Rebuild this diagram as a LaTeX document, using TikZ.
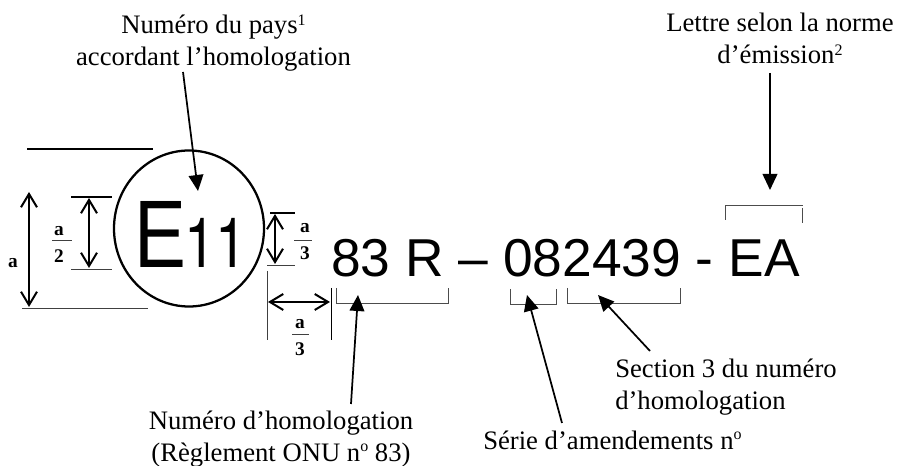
\documentclass[tikz,border=0pt]{standalone}
\usepackage{fontspec}
\usepackage{graphicx}
\setmainfont{Liberation Serif}
\setsansfont{Liberation Sans}
\newfontfamily\heros{TeX Gyre Heros}
\newcommand{\supmark}[2][5.6pt]{\raisebox{#1}{\fontsize{12}{12}\selectfont #2}}
\usetikzlibrary{arrows.meta,shapes.geometric}
\tikzset{
  x=0.75pt,y=-0.75pt,
  lab/.style={font=\fontsize{20}{24}\selectfont,align=center,inner sep=0pt},
  big/.style={font=\sffamily\fontsize{40}{40}\selectfont,inner sep=0pt,anchor=base west},
  frac/.style={font=\bfseries\fontsize{14.5}{16}\selectfont,inner sep=0pt},
  call/.style={line width=1.3pt,-{Triangle[length=12pt,width=11pt]}},
  dim/.style={line width=1pt,{Straight Barb[length=10pt,width=12pt,line width=1.5pt]}-{Straight Barb[length=10pt,width=12pt,line width=1.5pt]}},
  thin1/.style={line width=0.7pt,black!75},
  brk/.style={line width=0.7pt,black!70}
}
\begin{document}
\begin{tikzpicture}
\useasboundingbox (0,0) rectangle (897,466);
% labels
\node[lab] (pays) at (213.5,43) {Numéro du pays\supmark{1}\\accordant l’homologation};
\node[lab] (lettre) at (780,38) {Lettre selon la norme\\d’émission\supmark{2}};
\node[lab] (numero) at (281,439) {Numéro d’homologation\\(Règlement ONU n\supmark[7.5pt]{o} 83)};
\node[lab,anchor=base west] (serie) at (483,450) {Série d’amendements n\supmark[7.5pt]{o}};
\node[lab,align=left,anchor=west] (section) at (615,387) {Section 3 du numéro\\d’homologation};
% mark
\node[draw,line width=1.7pt,ellipse,minimum width=112.5pt,minimum height=117pt,inner sep=0pt] (rond) at (189,228.5) {};
\node[font=\sffamily\fontsize{72}{72}\selectfont,inner sep=0pt,anchor=base west] (lE) at (134,268) {\scalebox{.81}[1]{E}};
\node[font=\heros\fontsize{52}{52}\selectfont,inner sep=0pt,anchor=base west] (l11) at (184,268) {\scalebox{.82}[1]{11}};
\node[big] (num) at (331,277) {83 R – 082439 - EA};
% dimension lines
\coordinate (t1) at (27,149); \coordinate (t2) at (153,149);
\coordinate (b1) at (22,308); \coordinate (b2) at (148,308);
\draw[line width=0.8pt] (t1)--(t2);
\draw[thin1] (b1)--(b2);
\coordinate (a1) at (29,192); \coordinate (a2) at (29,307);
\draw[dim] (a1)--(a2);
\node[frac] (fa) at (13,263) {a};
\coordinate (h1) at (71,197); \coordinate (h2) at (112,197);
\coordinate (h3) at (71,269); \coordinate (h4) at (112,269);
\draw[line width=0.8pt] (h1)--(h2); \draw[thin1] (h3)--(h4);
\coordinate (h5) at (89,198); \coordinate (h6) at (89,268);
\draw[dim] (h5)--(h6);
\node[frac] (fb) at (59,231) {a};
\node[frac] (fb2n) at (59,256) {2};
\coordinate (fb1) at (52,240); \coordinate (fb2) at (72,240);
\draw[thin1] (fb1)--(fb2);
\coordinate (r1) at (270,213); \coordinate (r2) at (295,213);
\coordinate (r3) at (267,265); \coordinate (r4) at (295,265);
\draw[line width=0.8pt] (r1)--(r2); \draw[thin1] (r3)--(r4);
\coordinate (r5) at (275,214); \coordinate (r6) at (275,264);
\draw[dim] (r5)--(r6);
\node[frac] (fc) at (305,228) {a};
\node[frac] (fc2n) at (305,253) {3};
\coordinate (fc1) at (294,240); \coordinate (fc2) at (312,240);
\draw[thin1] (fc1)--(fc2);
\coordinate (v1) at (267,271); \coordinate (v2) at (267,340);
\coordinate (v3) at (331,288); \coordinate (v4) at (331,340);
\draw[thin1] (v1)--(v2); \draw[line width=0.7pt] (v3)--(v4);
\coordinate (w1) at (268,302); \coordinate (w2) at (330,302);
\draw[dim,line width=1.3pt] (w1)--(w2);
\node[frac] (fd) at (300,324) {a};
\node[frac] (fd2n) at (300,349) {3};
\coordinate (fd1) at (292,334); \coordinate (fd2) at (309,334);
\draw[thin1] (fd1)--(fd2);
% brackets
\coordinate (p1) at (336,288); \coordinate (p2) at (336,303); \coordinate (p3) at (448,303); \coordinate (p4) at (448,288);
\draw[brk] (p1)--(p2)--(p3)--(p4);
\coordinate (q1) at (510,289); \coordinate (q2) at (510,304); \coordinate (q3) at (556,304); \coordinate (q4) at (556,289);
\draw[brk] (q1)--(q2)--(q3)--(q4);
\coordinate (s1) at (567,288); \coordinate (s2) at (567,303); \coordinate (s3) at (680,303); \coordinate (s4) at (680,288);
\draw[brk] (s1)--(s2)--(s3)--(s4);
\coordinate (u1) at (725,220); \coordinate (u2) at (725,205.5); \coordinate (u3) at (803,205.5);
\coordinate (u4) at (802,208); \coordinate (u5) at (802,223);
\draw[brk] (u1)--(u2)--(u3); \draw[brk] (u4)--(u5);
% callouts
\coordinate (c1) at (183,72); \coordinate (c1t) at (198,191);
\draw[call] (c1)--(c1t);
\coordinate (c2) at (770,73); \coordinate (c2t) at (770,190);
\draw[call] (c2)--(c2t);
\coordinate (c3) at (351,404); \coordinate (c3t) at (358,295);
\draw[call] (c3)--(c3t);
\coordinate (c4) at (562,423); \coordinate (c4t) at (527,295);
\draw[call] (c4)--(c4t);
\coordinate (c5) at (650,351); \coordinate (c5t) at (598,295);
\draw[call] (c5)--(c5t);
\end{tikzpicture}
\end{document}
